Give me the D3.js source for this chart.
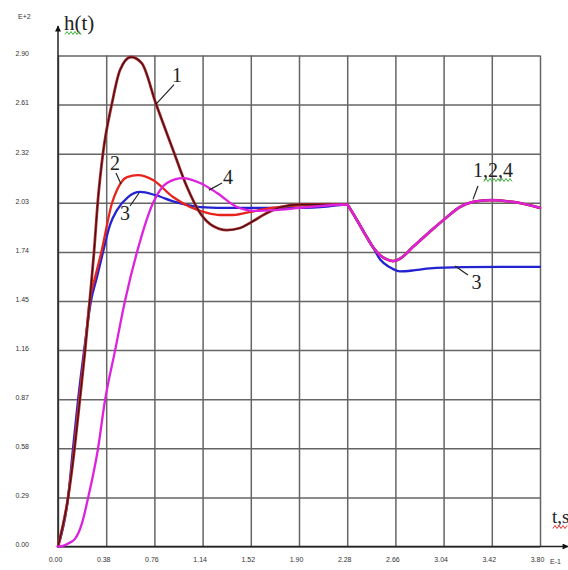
<!DOCTYPE html>
<html>
<head>
<meta charset="utf-8">
<script src="https://cdn.jsdelivr.net/npm/d3@7"></script>
<style>
  html, body { margin: 0; padding: 0; background: #fff; }
  svg { display: block; }
</style>
</head>
<body>
<svg id="chart" width="568" height="570"></svg>
<script>
// Step responses h(t); t in units of E-1 s, h in units of E+2.
const xTicks = [0, 0.38, 0.76, 1.14, 1.52, 1.90, 2.28, 2.66, 3.04, 3.42, 3.80];
const yTicks = [0, 0.29, 0.58, 0.87, 1.16, 1.45, 1.74, 2.03, 2.32, 2.61, 2.90];

// Responses up to the disturbance at t = 2.28
const curve1 = [[0,0],[0.079,0.286],[0.13,0.576],[0.172,0.865],[0.213,1.154],[0.25,1.45],[0.284,1.739],[0.315,2.047],[0.355,2.324],[0.426,2.619],[0.489,2.814],[0.576,2.891],[0.66,2.855],[0.773,2.613],[0.907,2.342],[1.017,2.123],[1.12,1.97],[1.222,1.893],[1.332,1.869],[1.435,1.881],[1.514,1.911],[1.632,1.964],[1.75,2.003],[1.908,2.02],[2.07,2.02],[2.28,2.02]];
const curve2 = [[0,0],[0.079,0.286],[0.126,0.576],[0.166,0.865],[0.21,1.154],[0.25,1.45],[0.295,1.597],[0.342,1.739],[0.426,2.029],[0.465,2.106],[0.544,2.182],[0.631,2.194],[0.749,2.165],[0.907,2.064],[1.041,2.005],[1.175,1.97],[1.277,1.958],[1.38,1.958],[1.514,1.976],[1.671,1.999],[1.908,2.015],[2.28,2.02]];
const curve3 = [[0,0],[0.079,0.286],[0.118,0.576],[0.158,0.865],[0.205,1.154],[0.26,1.45],[0.307,1.59],[0.355,1.739],[0.41,1.899],[0.465,1.987],[0.552,2.064],[0.647,2.094],[0.765,2.076],[0.922,2.035],[1.12,2.005],[1.38,2.0],[1.908,2.0],[2.145,2.01],[2.28,2.02]];
const curve4 = [[0,0],[0.04,0.004],[0.08,0.018],[0.134,0.045],[0.19,0.14],[0.237,0.286],[0.315,0.576],[0.371,0.865],[0.449,1.154],[0.528,1.45],[0.623,1.739],[0.749,2.029],[0.859,2.147],[0.985,2.176],[1.12,2.147],[1.254,2.088],[1.411,2.005],[1.553,1.982],[1.711,1.987],[1.908,2.0],[2.28,2.02]];

// After the disturbance curves 1, 2 and 4 coincide; curve 3 settles lower
const tail124 = [[2.30,1.998],[2.357,1.928],[2.42,1.845],[2.483,1.768],[2.54,1.72],[2.594,1.695],[2.641,1.686],[2.696,1.70],[2.799,1.77],[2.933,1.86],[3.067,1.946],[3.169,2.005],[3.272,2.035],[3.406,2.046],[3.587,2.035],[3.80,2.0]];
const tail3 = [[2.30,1.998],[2.357,1.928],[2.483,1.768],[2.54,1.695],[2.62,1.648],[2.696,1.625],[2.815,1.632],[2.933,1.643],[3.193,1.65],[3.5,1.652],[3.80,1.652]];

const svg = d3.select("#chart");
const plotLeft = 58, plotRight = 540, plotTop = 55.5, plotBottom = 546.5;

const x = d3.scaleLinear().domain([0, 3.8]).range([plotLeft, plotRight]);
const y = d3.scaleLinear().domain([0, 2.9]).range([plotBottom, plotTop]);
const fmt = d3.format(".2f");

// Grid + tick labels
const gx = svg.append("g")
  .attr("transform", `translate(0,${plotBottom})`)
  .call(d3.axisBottom(x).tickValues(xTicks).tickFormat(fmt)
    .tickSize(-(plotBottom - plotTop)).tickPadding(11));
const gy = svg.append("g")
  .attr("transform", `translate(${plotLeft},0)`)
  .call(d3.axisLeft(y).tickValues(yTicks).tickFormat(fmt)
    .tickSize(-(plotRight - plotLeft)).tickPadding(29));

[gx, gy].forEach(g => {
  g.select(".domain").remove();
  g.selectAll(".tick line").attr("stroke", "#656565").attr("stroke-width", 1.5);
  g.selectAll(".tick text")
    .attr("font-family", "'Liberation Sans', Arial, sans-serif")
    .attr("font-size", 7).attr("fill", "#333");
});
gx.selectAll(".tick text").attr("dx", -3);
gy.selectAll(".tick text").attr("dy", "0.05em");

// Axes with arrows
svg.append("defs").append("marker")
  .attr("id", "arrow").attr("viewBox", "0 0 10 10")
  .attr("refX", 9).attr("refY", 5)
  .attr("markerWidth", 8).attr("markerHeight", 6)
  .attr("markerUnits", "userSpaceOnUse")
  .attr("orient", "auto")
  .append("path").attr("d", "M0,0 L10,5 L0,10 z").attr("fill", "#111");

svg.append("line").attr("x1", plotLeft).attr("y1", plotBottom).attr("x2", plotLeft).attr("y2", 26)
  .attr("stroke", "#222").attr("stroke-width", 1.5).attr("marker-end", "url(#arrow)");
svg.append("line").attr("x1", plotLeft).attr("y1", plotBottom).attr("x2", 568).attr("y2", plotBottom)
  .attr("stroke", "#222").attr("stroke-width", 1.5).attr("marker-end", "url(#arrow)");

// Exponent labels
function smallText(txt, px, py) {
  return svg.append("text").attr("x", px).attr("y", py).text(txt)
    .attr("font-family", "'Liberation Sans', Arial, sans-serif")
    .attr("font-size", 7).attr("fill", "#333");
}
smallText("E+2", 18, 19);
smallText("E-1", 550, 564);

// Curves
const line = d3.line().x(d => x(d[0])).y(d => y(d[1])).curve(d3.curveMonotoneX);
const g = svg.append("g").attr("fill", "none").attr("stroke-linejoin", "round").attr("stroke-linecap", "round");

g.append("path").datum(curve3.concat(tail3)).attr("d", line)
  .attr("stroke", "#2323d2").attr("stroke-width", 2.3);
g.append("path").datum(curve2.concat(tail124)).attr("d", line)
  .attr("stroke", "#e8231c").attr("stroke-width", 2.3);
g.append("path").datum(curve1.concat(tail124)).attr("d", line)
  .attr("stroke", "#b43236").attr("stroke-width", 2.8);
g.append("path").datum(curve1.concat(tail124)).attr("d", line)
  .attr("stroke", "#4f0f12").attr("stroke-width", 1.3);
g.append("path").datum(curve4.concat(tail124)).attr("d", line)
  .attr("stroke", "#dd22dd").attr("stroke-width", 2.3);

// Curve labels with leader lines (positions in data units)
const labels = [
  { text: "1",     at: [0.938, 2.744], from: [0.915, 2.728], to: [0.773, 2.613] },
  { text: "2",     at: [0.449, 2.224], from: [0.457, 2.206], to: [0.497, 2.141] },
  { text: "3",     at: [0.528, 1.93],  from: [0.568, 2.011], to: [0.639, 2.088] },
  { text: "4",     at: [1.34, 2.14],   from: [1.293, 2.147], to: [1.19, 2.105] },
  { text: "1,2,4", at: [3.43, 2.18],   from: [3.311, 2.129], to: [3.272, 2.05] },
  { text: "3",     at: [3.30, 1.52],   from: [3.232, 1.603], to: [3.13, 1.657] }
];
const serif = "'Liberation Serif', 'Times New Roman', serif";
labels.forEach(l => {
  svg.append("line")
    .attr("x1", x(l.from[0])).attr("y1", y(l.from[1]))
    .attr("x2", x(l.to[0])).attr("y2", y(l.to[1]))
    .attr("stroke", "#222").attr("stroke-width", 1.2);
  svg.append("text").attr("x", x(l.at[0])).attr("y", y(l.at[1]))
    .attr("text-anchor", "middle")
    .attr("font-family", serif).attr("font-size", 20).attr("fill", "#222")
    .text(l.text);
});

// Axis titles
svg.append("text").attr("x", 64).attr("y", 30)
  .attr("font-family", serif).attr("font-size", 21).attr("fill", "#222").text("h(t)");
svg.append("text").attr("x", 552).attr("y", 523)
  .attr("font-family", serif).attr("font-size", 19).attr("fill", "#222").text("t,s");

// Wavy underlines under some words
function squiggle(x0, x1, yy, color) {
  const pts = [];
  for (let px = x0, i = 0; px <= x1; px += 2, i++) pts.push([px, yy + (i % 2 ? -1.5 : 1.5)]);
  svg.append("path").attr("d", d3.line()(pts)).attr("fill", "none")
    .attr("stroke", color).attr("stroke-width", 1);
}
squiggle(65, 82, 33, "#3cae3c");
squiggle(484, 513, 180, "#3cae3c");
squiggle(553, 568, 527, "#e03030");
</script>
</body>
</html>
